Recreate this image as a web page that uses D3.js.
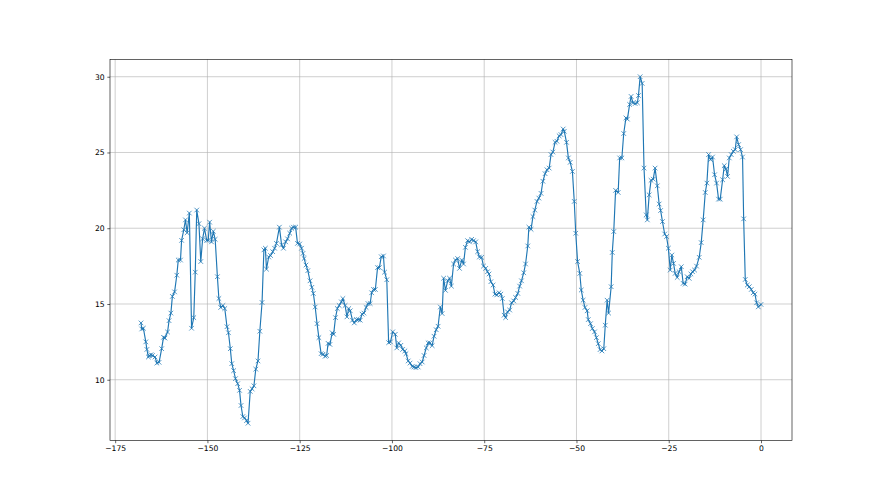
<!DOCTYPE html>
<html>
<head>
<meta charset="utf-8">
<script src="https://cdn.jsdelivr.net/npm/d3@7"></script>
<style>
  html, body { margin: 0; padding: 0; background: #fff; }
  svg { display: block; }
  text { font-family: "DejaVu Sans", sans-serif; }
</style>
</head>
<body>
<svg id="chart" width="880" height="495"></svg>
<script>
// ---- data ----
const xValues = [
-168,-167.8,-167.35,-166.7,-166.4,-166.0,-165.7,-165.3,-164.9,-164.2,
-163.7,-163.1,-162.4,-161.9,-161.5,-160.8,-160.4,-159.9,-159.5,-158.9,
-158.3,-157.9,-157.3,-157.0,-156.4,-155.95,-155.5,-154.9,-154.3,-153.7,
-153.3,-152.9,-152.3,-151.8,-151.3,-150.8,-150.2,-149.8,-149.4,-148.9,
-148.4,-147.9,
-147.3,-146.9,-146.4,-145.8,-145.3,-144.7,-144.3,-143.8,-143.4,-142.9,
-142.4,-141.8,-141.3,-140.9,-140.4,-139.95,-139.4,-139.0,-138.4,-137.9,
-137.4,-136.9,-136.3,-135.8,-135.2,-134.7,-134.3,-134.0,-133.4,-132.9,
-132.3,-131.8,-131.3,-130.5,-129.9,-129.4,-128.8,-128.3,-127.7,-127.2,
-126.7,-126.1,-125.6,-125.0,-124.5,-124.1,
-123.8,-123.3,-122.8,-122.2,-121.7,-121.3,-120.8,-120.3,-119.8,-119.2,
-118.7,-118.1,-117.7,-117.3,-116.8,-116.2,-115.8,-115.3,-114.8,-114.3,
-113.7,-113.3,-112.7,-112.2,-111.7,-111.3,-110.7,-110.2,-109.6,-109.1,
-108.6,-108.1,-107.6,-107.0,-106.5,-105.9,-105.5,-105.0,-104.5,-103.9,
-103.4,-102.9,-102.3,-102.0,-101.4,-100.9,
-100.4,-99.8,-99.1,-98.7,-98.2,-97.6,-97.1,-96.5,-96.2,-95.6,
-95.1,-94.5,-94.0,-93.5,-92.9,-92.4,-91.8,-91.3,-90.7,-90.2,
-89.7,-89.1,-88.6,-88.0,-87.5,-86.9,-86.4,-86.0,-85.5,-84.9,
-84.4,-83.9,-83.3,-82.8,-82.2,-81.7,-81.1,-80.6,-80.1,-79.5,
-79.0,-78.4,-77.9,-77.3,-76.8,-76.3,-75.7,-75.2,-74.6,-74.1,
-73.7,-73.2,-72.6,-72.1,-71.6,-71.0,-70.5,-70.1,-69.6,-69.2,
-68.7,-68.1,-67.6,-67.0,-66.5,-65.9,-65.4,-64.9,-64.3,-63.8,
-63.2,-62.9,-62.3,-61.8,-61.3,-60.7,-60.2,-59.6,-59.1,-58.5,
-58.0,-57.4,-56.9,-56.4,-55.8,-55.3,-54.7,-54.2,-53.6,-53.3,
-52.7,-52.2,-51.7,-51.1,-50.6,-50.2,-49.7,
-49.1,-48.7,-48.2,-47.7,-47.1,-46.8,-46.2,-45.7,-45.1,-44.6,
-44.1,-43.6,-43.1,-42.6,-42.2,-41.7,-41.3,-40.6,-40.3,-39.9,
-39.4,-38.7,-38.3,-37.7,-37.2,-36.6,-36.2,-35.6,-35.2,-34.7,
-34.1,-33.5,-33.2,-32.75,-32.2,-31.7,-31.1,-30.8,-30.3,-29.8,
-29.2,-28.7,-28.1,-27.6,-27.2,-26.7,-26.1,-25.6,-25.1,
-24.6,-24.16,-23.7,-23.26,-22.7,-22.2,-21.6,-21.09,-20.55,-20.0,
-19.46,-19.0,-18.55,-18.0,-17.47,-16.75,-16.2,-15.66,-15.1,-14.66,
-14.2,-13.67,-13.13,-12.58,-12.04,-11.5,-11.05,-10.4,-9.96,-9.5,
-9.06,-8.6,-8.06,-7.5,-6.98,-6.6,-6.07,-5.53,-5.0,-4.7,
-4.26,-3.72,-3.18,-2.63,-2.1,-1.64,-1.19,-0.73,0
];
const yValues = [
13.75,13.35,13.4,12.5,12.0,11.5,11.6,11.65,11.6,11.5,
11.1,11.15,12.05,12.8,12.75,13.15,13.9,14.4,15.5,15.8,
16.9,17.9,17.9,19.2,19.9,20.55,19.7,21.0,13.4,14.1,
17.1,21.2,20.3,17.8,19.3,20.0,19.2,19.2,20.4,19.1,
19.8,19.27,
16.8,15.36,14.77,14.9,14.7,13.5,13.1,12.05,11.06,10.6,
10.07,9.74,9.3,8.3,7.57,7.48,7.3,7.13,9.23,9.4,
9.6,10.7,11.24,13.2,15.1,18.57,18.68,17.3,18.1,18.2,
18.45,18.68,19.0,20.07,18.9,18.68,19.1,19.3,19.67,20.0,
20.07,20.07,19.0,18.96,18.68,18.34,
18.0,17.57,17.2,16.53,16.1,15.7,14.8,13.7,12.78,11.72,
11.68,11.55,11.6,12.4,12.33,13.1,13.0,14.1,14.7,14.9,
15.14,15.36,14.9,14.15,14.7,14.55,13.93,13.75,13.97,13.97,
13.93,14.33,14.4,14.77,15.03,15.03,15.74,15.96,15.96,17.4,
17.4,18.12,18.17,17.1,16.6,12.45,
12.5,13.16,13.0,12.1,12.43,12.27,12.0,11.9,11.72,11.24,
11.1,10.88,10.84,10.8,10.84,11.06,11.17,11.6,12.1,12.43,
12.43,12.25,12.87,13.3,13.53,14.8,14.37,16.7,15.9,16.53,
16.7,16.18,17.64,17.9,18.0,17.35,17.9,17.64,18.74,19.18,
19.1,19.27,19.18,19.1,18.45,18.1,18.08,17.5,17.35,17.13,
16.98,16.47,16.25,15.65,15.6,15.74,15.65,15.36,14.26,14.1,
14.48,14.6,15.08,15.2,15.43,15.7,16.18,16.53,17.06,17.64,
18.83,20.07,19.93,20.77,21.2,21.77,21.99,22.3,23.1,23.6,
23.86,23.97,24.86,25.03,25.67,25.74,26.1,26.18,26.55,26.4,
25.67,24.64,24.35,23.75,21.77,19.67,17.8,
17.02,15.92,15.25,14.77,14.55,13.97,13.7,13.38,13.16,12.78,
12.38,11.99,11.9,12.05,13.6,15.25,14.4,16.14,18.4,19.78,
22.5,22.36,24.64,24.64,26.25,27.28,27.2,28.17,28.7,28.28,
28.23,28.28,28.76,30.0,29.56,23.97,20.88,20.55,22.2,23.16,
23.24,23.97,22.8,21.6,21.17,20.44,19.62,19.45,18.68,
17.24,18.23,17.68,17.02,16.75,17.13,17.46,16.36,16.31,16.8,
16.69,16.98,17.13,17.24,17.5,18.08,19.05,20.55,22.36,22.98,
24.86,24.53,24.7,23.53,22.98,21.92,21.92,23.2,24.13,23.9,
23.42,24.64,24.86,25.08,25.19,26.03,25.52,25.19,24.7,20.62,
16.62,16.25,16.14,15.96,15.74,15.65,15.08,14.81,14.97
];
const xTicks = [-175, -150, -125, -100, -75, -50, -25, 0];
const yTicks = [10, 15, 20, 25, 30];

(function () {
  // ---- layout ----
  const W = 880, H = 495;
  const pL = 110, pR = 792, pT = 59.4, pB = 440.55;
  const color = "#1f77b4";
  const s = 0.55;         // figure scale factor
  const pt = 100 / 72 * s; // px per point

  const data = xValues.map((xv, i) => ({x: xv, y: yValues[i]}));

  const xExt = d3.extent(xValues), yExt = d3.extent(yValues);
  const xPad = (xExt[1] - xExt[0]) * 0.05, yPad = (yExt[1] - yExt[0]) * 0.05;

  const x = d3.scaleLinear().domain([xExt[0] - xPad, xExt[1] + xPad]).range([pL, pR]);
  const y = d3.scaleLinear().domain([yExt[0] - yPad, yExt[1] + yPad]).range([pB, pT]);

  const svg = d3.select("#chart");
  svg.append("rect").attr("width", W).attr("height", H).attr("fill", "#fff");

  // grid
  const grid = svg.append("g").attr("stroke", "#b0b0b0").attr("stroke-width", 0.8 * pt);
  grid.selectAll("line.gx").data(xTicks).join("line").attr("class", "gx")
    .attr("x1", d => x(d)).attr("x2", d => x(d))
    .attr("y1", pT).attr("y2", pB);
  grid.selectAll("line.gy").data(yTicks).join("line").attr("class", "gy")
    .attr("y1", d => y(d)).attr("y2", d => y(d))
    .attr("x1", pL).attr("x2", pR);

  // axes
  const fmt = d => (d < 0 ? "\u2212" + Math.abs(d) : String(d));
  const tickLen = 3.5 * pt;
  const fontSize = 10 * pt;

  const xAxis = d3.axisBottom(x).tickValues(xTicks).tickFormat(fmt)
    .tickSizeInner(tickLen).tickSizeOuter(0).tickPadding(tickLen);
  const yAxis = d3.axisLeft(y).tickValues(yTicks).tickFormat(fmt)
    .tickSizeInner(tickLen).tickSizeOuter(0).tickPadding(tickLen);

  const gx = svg.append("g").attr("transform", `translate(0,${pB})`).call(xAxis);
  const gy = svg.append("g").attr("transform", `translate(${pL},0)`).call(yAxis);
  [gx, gy].forEach(g => {
    g.select(".domain").remove();
    g.selectAll(".tick line").attr("stroke", "#000").attr("stroke-width", 0.8 * pt);
    g.selectAll(".tick text").attr("fill", "#000")
      .style("font-family", "'DejaVu Sans', sans-serif").style("font-size", fontSize + "px");
  });

  // line
  svg.append("path").datum(data)
    .attr("fill", "none").attr("stroke", color)
    .attr("stroke-width", 1.5 * pt)
    .attr("stroke-linejoin", "round").attr("stroke-linecap", "square")
    .attr("d", d3.line().x(d => x(d.x)).y(d => y(d.y)));

  // 'x' markers
  const m = 3 * pt;
  const markers = svg.append("g").attr("stroke", color).attr("stroke-width", 1 * pt).attr("fill", "none");
  markers.selectAll("path").data(data).join("path")
    .attr("d", d => {
      const cx = x(d.x), cy = y(d.y);
      return `M${cx - m},${cy - m}L${cx + m},${cy + m}M${cx - m},${cy + m}L${cx + m},${cy - m}`;
    });

  // spines
  svg.append("rect").attr("x", pL).attr("y", pT)
    .attr("width", pR - pL).attr("height", pB - pT)
    .attr("fill", "none").attr("stroke", "#000").attr("stroke-width", 0.8 * pt);
})();
</script>
</body>
</html>
